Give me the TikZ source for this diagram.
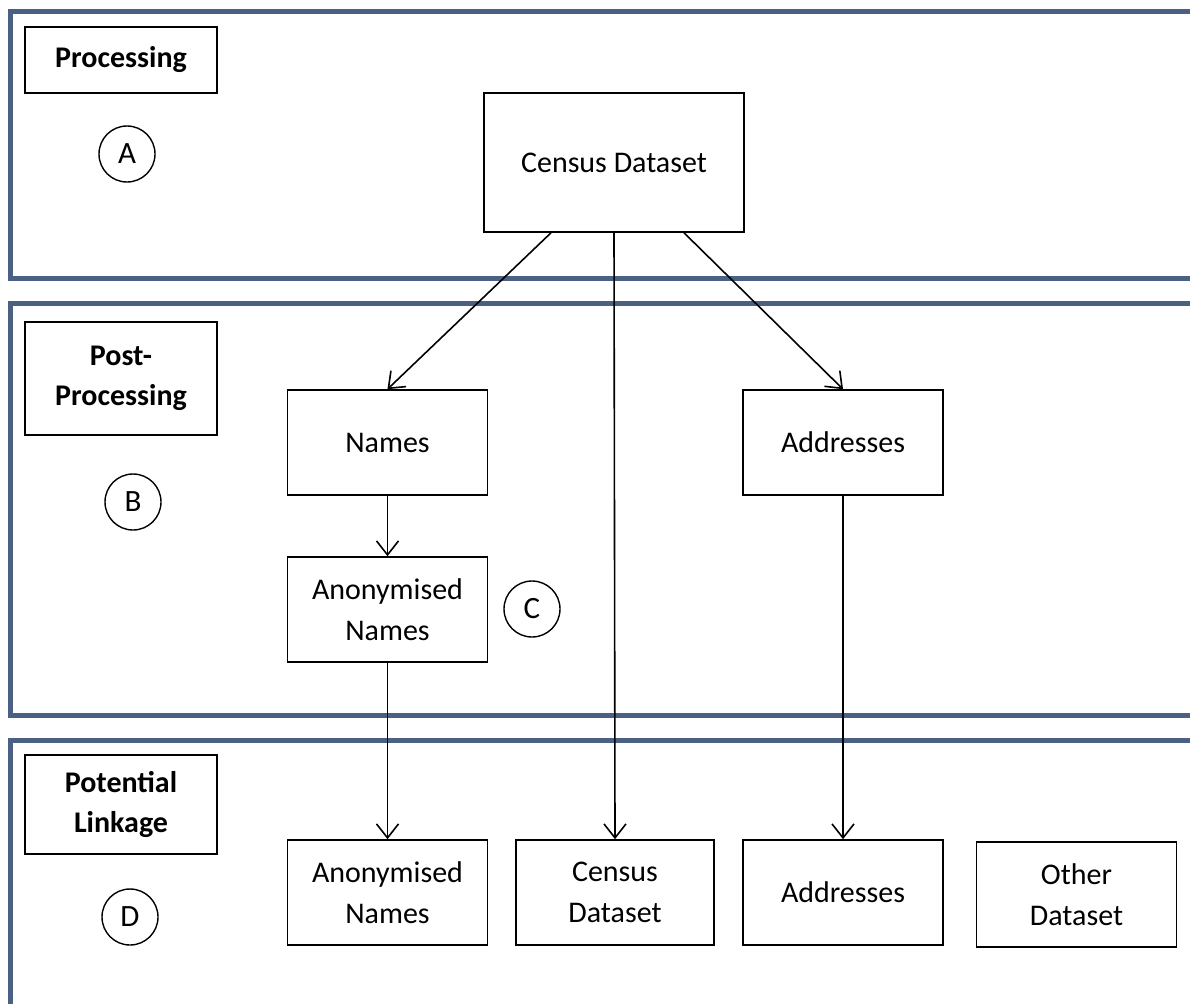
\documentclass[tikz,border=0pt]{standalone}
\usepackage{fontspec}
\setmainfont{Carlito}
\usetikzlibrary{arrows.meta}
\definecolor{framecol}{HTML}{4A6184}

\begin{document}
\begin{tikzpicture}[x=1pt, y=-1pt,
    panel/.style={line width=5pt, draw=framecol},
    stagebox/.style={draw, line width=1.6pt, minimum width=192pt, align=center,
        font=\fontsize{30}{40}\selectfont\bfseries},
    databox/.style={draw, line width=1.6pt, minimum width=200pt, minimum height=105pt,
        align=center, font=\fontsize{30}{41}\selectfont},
    mark circle/.style={draw, circle, line width=1.4pt, minimum size=56pt, inner sep=0pt,
        font=\fontsize{31}{34}\selectfont},
    flow/.style={line width=1.6pt, -{Straight Barb[length=14pt, width=22pt, line width=1.6pt]}}]
        \clip (0,0) rectangle (1190,1003);
        \fill[white] (0,0) rectangle (1190,1003);

        % stage panels
        \foreach \top/\bottom in {12/278, 303/715, 740/1030} {
            \draw[panel] (1220,\top) -- (10,\top) -- (10,\bottom) -- (1220,\bottom);
        }

        % stage labels
        \node[stagebox, minimum height=66pt] (processing) at (121,60) {Processing};
        \node[stagebox, minimum height=113pt] (postproc) at (121,378.5) {Post-\\Processing};
        \node[stagebox, minimum height=99pt] (linkage) at (121,804.5) {Potential\\Linkage};

        \node[mark circle] (markA) at (127,154) {A};
        \node[mark circle] (markB) at (133,502) {B};
        \node[mark circle] (markC) at (532,609) {C};
        \node[mark circle] (markD) at (130,917) {D};

        % processing
        \node[databox, minimum width=260pt, minimum height=139pt] (census) at (614,162.5) {Census Dataset};

        % post-processing
        \node[databox] (names) at (387.5,442.5) {Names};
        \node[databox] (addresses) at (843,442.5) {Addresses};
        \node[databox] (anonnames) at (387.5,609.5) {Anonymised\\Names};

        % potential linkage
        \node[databox] (anonlink) at (387.5,892.5) {Anonymised\\Names};
        \node[databox, minimum width=198pt] (censuslink) at (615,892.5) {Census\\Dataset};
        \node[databox] (addrlink) at (843,892.5) {Addresses};
        \node[databox] (otherlink) at (1076.5,894.5) {Other\\Dataset};

        % flows
        \draw[flow] ([xshift=-63pt]census.south) -- (names.north);
        \draw[flow] ([xshift=70pt]census.south) -- (addresses.north);
        \draw[flow] (census.south) -- (censuslink.north);
        \draw[flow] (names.south) -- (anonnames.north);
        \draw[flow] (anonnames.south) -- (anonlink.north);
        \draw[flow] (addresses.south) -- (addrlink.north);

    \end{tikzpicture}
\end{document}
